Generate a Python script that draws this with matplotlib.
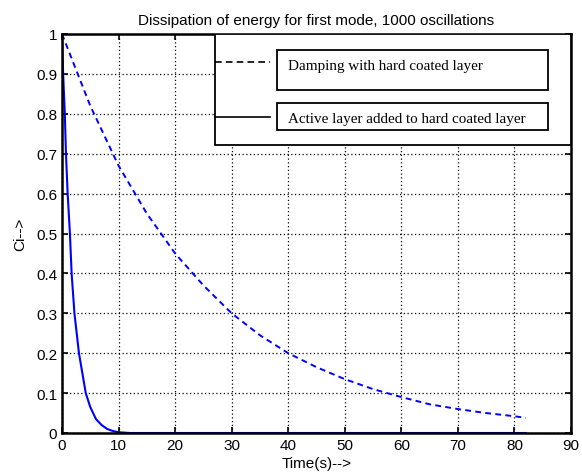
import matplotlib
matplotlib.use("Agg")
import matplotlib.pyplot as plt
from matplotlib.patches import Rectangle

# damping with hard coated layer (dashed)
t_hard = [0, 5, 10, 15, 20, 25, 30, 35, 40, 45, 50, 55, 60, 65, 70, 75, 80, 82]
c_hard = [1.0, 0.82, 0.67, 0.55, 0.45, 0.37, 0.30, 0.245, 0.20, 0.165,
          0.135, 0.11, 0.09, 0.072, 0.06, 0.05, 0.042, 0.038]

# active layer added (solid)
t_active = [0, 0.2, 0.5, 0.7, 1.0, 1.4, 1.7, 2.2, 3.0, 3.6, 4.2, 5, 6, 7, 8, 9, 10, 12, 82]
c_active = [1.0, 0.9, 0.8, 0.7, 0.6, 0.5, 0.4, 0.3, 0.2, 0.15, 0.1, 0.065,
            0.035, 0.02, 0.01, 0.005, 0.002, 0.0, 0.0]

legend_labels = ["Damping with hard coated layer",
                 "Active layer added to hard coated layer"]

plt.rcParams["font.family"] = ["Liberation Sans", "DejaVu Sans"]

fig = plt.figure(figsize=(5.82, 4.77), dpi=100)
ax = fig.add_axes([62 / 582, 1 - 434 / 477, 509 / 582, 399 / 477])

ax.plot(t_hard, c_hard, "--", color="#0000ff", lw=1.4, dashes=(3, 2.2))
ax.plot(t_active, c_active, "-", color="#0000ff", lw=1.5)

ax.set_xlim(0, 90)
ax.set_ylim(0, 1)
ax.set_xticks(range(0, 91, 10))
ax.set_yticks([i / 10 for i in range(11)])
ax.set_yticklabels(["0", "0.1", "0.2", "0.3", "0.4", "0.5", "0.6", "0.7", "0.8", "0.9", "1"])
ax.grid(True, color="black", linestyle=(0, (1, 2)), linewidth=0.9)
ax.tick_params(direction="in", top=True, right=True, length=4, labelsize=11, width=1.2)
for s in ax.spines.values():
    s.set_linewidth(1.8)

ax.set_title("Dissipation of energy for first mode, 1000 oscillations", fontsize=11, pad=7)
ax.set_xlabel("Time(s)-->", fontsize=11, labelpad=3)
ax.set_ylabel("Ci-->", fontsize=11, labelpad=6)

# matlab-style legend
ax.add_patch(Rectangle((0.3006, 0.7226), 0.6994, 0.2774, transform=ax.transAxes,
                       facecolor="white", edgecolor="black", lw=1.3, zorder=5))
ax.add_patch(Rectangle((0.423, 0.8604), 0.532, 0.1003, transform=ax.transAxes,
                       facecolor="white", edgecolor="black", lw=1.3, zorder=6))
ax.add_patch(Rectangle((0.423, 0.7594), 0.532, 0.0669, transform=ax.transAxes,
                       facecolor="white", edgecolor="black", lw=1.3, zorder=6))
ax.plot([0.3006, 0.4086], [0.929, 0.929], "--", color="black", lw=1.2,
        dashes=(4, 2.5), transform=ax.transAxes, zorder=7)
ax.plot([0.3006, 0.4086], [0.7927, 0.7927], "-", color="black", lw=1.2,
        transform=ax.transAxes, zorder=7)
ax.text(0.444, 0.9206, legend_labels[0], transform=ax.transAxes, va="center",
        family="Liberation Serif", fontsize=10.9, zorder=8)
ax.text(0.444, 0.787, legend_labels[1], transform=ax.transAxes, va="center",
        family="Liberation Serif", fontsize=10.9, zorder=8)

fig.savefig("out.png", dpi=100)
